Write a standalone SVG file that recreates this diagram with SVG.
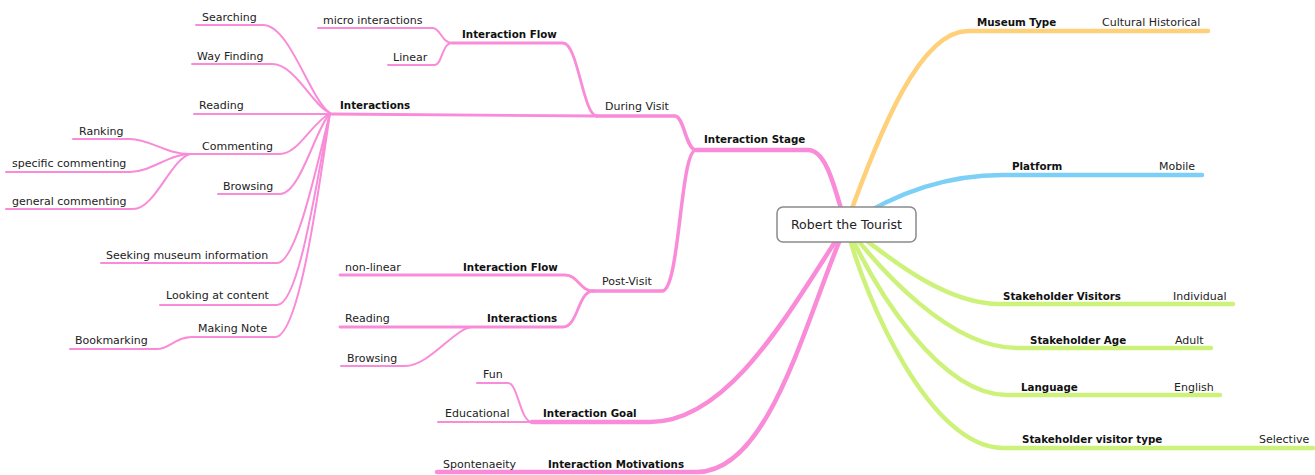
<svg xmlns="http://www.w3.org/2000/svg" width="1315" height="475" viewBox="0 0 1315 475">
<style>
.t{font-family:"DejaVu Sans",Verdana,sans-serif;font-size:11px;fill:#222}
.b{font-family:"DejaVu Sans",Verdana,sans-serif;font-size:10.3px;font-weight:bold;fill:#111}
.c{fill:none;stroke-linecap:round;stroke-linejoin:round}
.p{stroke:#F98BD8}
.o{stroke:#FFD07A}
.bl{stroke:#7CD0F8}
.g{stroke:#CDF27A}
.l1{stroke-width:4.5}
.l2{stroke-width:3.5}
.l3{stroke-width:2.8}
.l4{stroke-width:2}
</style>
<rect width="1315" height="475" fill="#fff"/>
<g id="connectors">
  <path class="c p l1" d="M846,225 C836,195 828,150 808,150 H696"/>
  <path class="c p l2" d="M696,150 C686,150 684,116 675,116 H597"/>
  <path class="c p l3" d="M597,116 L330,114"/>
  <path class="c p l3" d="M597,116 C583,116 578,43 563,43 H452"/>
  <path class="c p l4" d="M452,43 C442,43 440,28 433,28 H318"/>
  <path class="c p l4" d="M452,43 C442,43 442,65 435,65 H388"/>
  <path class="c p l4" d="M330,113 C310,100 290,25 263,25 H196"/>
  <path class="c p l4" d="M330,113 C312,105 295,64 272,64 H192"/>
  <path class="c p l4" d="M330,114 H194"/>
  <path class="c p l4" d="M330,113 C310,125 298,154 280,154 H190"/>
  <path class="c p l4" d="M330,113 C315,130 300,194 280,194 H218"/>
  <path class="c p l4" d="M330,113 C318,160 297,263 277,263 H101"/>
  <path class="c p l4" d="M330,113 C318,170 300,305 277,305 H160"/>
  <path class="c p l4" d="M330,113 C320,180 300,337 275,337 H192"/>
  <path class="c p l4" d="M192,337 C175,337 170,349 157,349 H70"/>
  <path class="c p l4" d="M190,154 C165,154 150,139 130,139 H73"/>
  <path class="c p l4" d="M190,154 C170,154 150,172 130,172 H6"/>
  <path class="c p l4" d="M190,154 C170,160 155,209 133,209 H6"/>
  <path class="c p l2" d="M696,150 C680,150 680,291 662,291 H593"/>
  <path class="c p l3" d="M593,291 C580,291 578,275 565,275 H340"/>
  <path class="c p l3" d="M593,291 C578,291 578,327 563,327 H340"/>
  <path class="c p l4" d="M473,327 C455,327 430,366 405,366 H341"/>
  <path class="c p l1" d="M846,225 C790,310 730,422 650,422 H532"/>
  <path class="c p l4" d="M532,422 H438"/>
  <path class="c p l4" d="M532,422 C520,422 518,383 508,383 H477"/>
  <path class="c p l1" d="M846,225 C805,320 770,472 697,472 H437"/>
  <path class="c o l1" d="M846,225 C880,130 920,31 968,31 H1208"/>
  <path class="c bl l1" d="M846,225 C900,190 950,175 1003,175 H1202"/>
  <path class="c g l1" d="M846,225 C880,250 940,304 1000,304 H1233"/>
  <path class="c g l1" d="M846,225 C880,270 950,348 1017,348 H1211"/>
  <path class="c g l1" d="M846,225 C875,290 940,395 1007,395 H1220"/>
  <path class="c g l1" d="M846,225 C865,300 930,448 1003,448 H1313"/>
</g>
<g id="center">
  <rect x="777" y="207" width="139" height="35" rx="6" fill="#fff" stroke="#8a8a8a" stroke-width="1.5"/>
  <text class="t" x="846.5" y="229" text-anchor="middle" style="font-size:12.5px">Robert the Tourist</text>
</g>
<g id="interaction-stage"><text class="b" x="704" y="143">Interaction Stage</text></g>
<g id="during-visit"><text class="t" x="605" y="110">During Visit</text></g>
<g id="interaction-flow-1"><text class="b" x="462" y="38">Interaction Flow</text></g>
<g id="micro-interactions"><text class="t" x="323" y="24">micro interactions</text></g>
<g id="linear"><text class="t" x="393" y="61">Linear</text></g>
<g id="interactions-1"><text class="b" x="340" y="109">Interactions</text></g>
<g id="searching"><text class="t" x="202" y="21">Searching</text></g>
<g id="way-finding"><text class="t" x="197" y="60">Way Finding</text></g>
<g id="reading-1"><text class="t" x="199" y="109">Reading</text></g>
<g id="commenting"><text class="t" x="202" y="150">Commenting</text></g>
<g id="ranking"><text class="t" x="79" y="135">Ranking</text></g>
<g id="specific-commenting"><text class="t" x="12" y="167">specific commenting</text></g>
<g id="general-commenting"><text class="t" x="12" y="205">general commenting</text></g>
<g id="browsing-1"><text class="t" x="223" y="190">Browsing</text></g>
<g id="seeking"><text class="t" x="106" y="259">Seeking museum information</text></g>
<g id="looking"><text class="t" x="166" y="299">Looking at content</text></g>
<g id="making-note"><text class="t" x="198" y="332">Making Note</text></g>
<g id="bookmarking"><text class="t" x="75" y="344">Bookmarking</text></g>
<g id="post-visit"><text class="t" x="602" y="285">Post-Visit</text></g>
<g id="interaction-flow-2"><text class="b" x="463" y="271">Interaction Flow</text></g>
<g id="non-linear"><text class="t" x="345" y="271">non-linear</text></g>
<g id="interactions-2"><text class="b" x="487" y="322">Interactions</text></g>
<g id="reading-2"><text class="t" x="345" y="322">Reading</text></g>
<g id="browsing-2"><text class="t" x="347" y="362">Browsing</text></g>
<g id="interaction-goal"><text class="b" x="543" y="417">Interaction Goal</text></g>
<g id="fun"><text class="t" x="483" y="378">Fun</text></g>
<g id="educational"><text class="t" x="445" y="417">Educational</text></g>
<g id="interaction-motivations"><text class="b" x="548" y="468">Interaction Motivations</text></g>
<g id="spontenaeity"><text class="t" x="443" y="468">Spontenaeity</text></g>
<g id="museum-type"><text class="b" x="977" y="26">Museum Type</text></g>
<g id="cultural-historical"><text class="t" x="1102" y="26">Cultural Historical</text></g>
<g id="platform"><text class="b" x="1012" y="170">Platform</text></g>
<g id="mobile"><text class="t" x="1159" y="170">Mobile</text></g>
<g id="stakeholder-visitors"><text class="b" x="1003" y="300">Stakeholder Visitors</text></g>
<g id="individual"><text class="t" x="1173" y="300">Individual</text></g>
<g id="stakeholder-age"><text class="b" x="1030" y="344">Stakeholder Age</text></g>
<g id="adult"><text class="t" x="1175" y="344">Adult</text></g>
<g id="language"><text class="b" x="1021" y="391">Language</text></g>
<g id="english"><text class="t" x="1174" y="391">English</text></g>
<g id="stakeholder-visitor-type"><text class="b" x="1022" y="443">Stakeholder visitor type</text></g>
<g id="selective"><text class="t" x="1259" y="443">Selective</text></g>
</svg>
